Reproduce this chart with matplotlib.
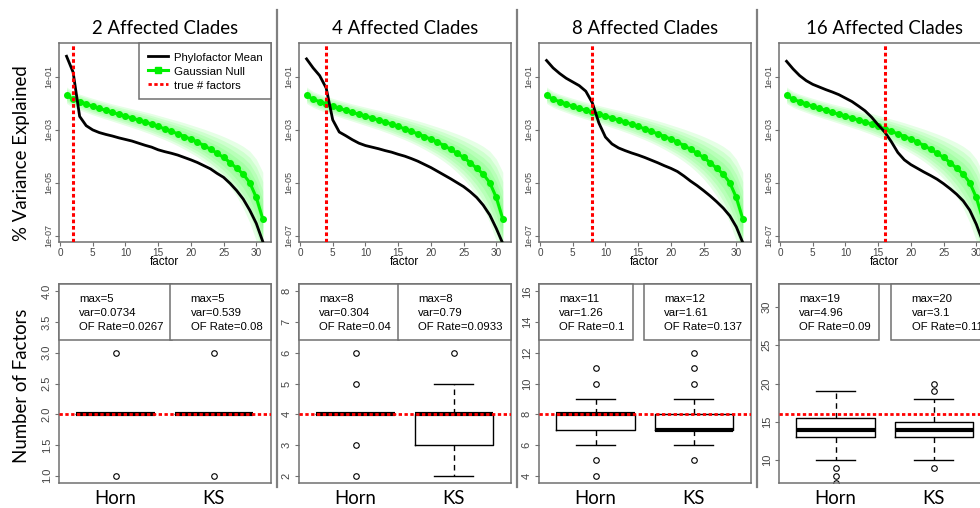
import numpy as np
import matplotlib.pyplot as plt
from matplotlib.lines import Line2D

plt.rcParams['font.family'] = ['Liberation Sans', 'DejaVu Sans']

W, H = 980, 508

clades = [2, 4, 8, 16]
factor = np.arange(1, 32)

# log10(% variance explained)
null_mean = [-1.69, -1.85, -1.93, -2.02, -2.11, -2.19, -2.26, -2.34, -2.41, -2.48,
             -2.55, -2.63, -2.70, -2.78, -2.87, -2.96, -3.05, -3.15, -3.25, -3.35,
             -3.46, -3.59, -3.73, -3.88, -4.04, -4.23, -4.45, -4.67, -4.99, -5.55, -6.37]
null_hi = [-1.38, -1.55, -1.65, -1.73, -1.81, -1.88, -1.95, -2.02, -2.08, -2.14,
           -2.20, -2.26, -2.32, -2.38, -2.45, -2.52, -2.59, -2.66, -2.73, -2.81,
           -2.89, -2.97, -3.06, -3.15, -3.25, -3.36, -3.48, -3.62, -3.80, -4.10, -4.60]
null_lo = [-2.00, -2.15, -2.25, -2.34, -2.43, -2.51, -2.59, -2.67, -2.75, -2.83,
           -2.91, -2.99, -3.08, -3.17, -3.27, -3.37, -3.48, -3.60, -3.73, -3.87,
           -4.02, -4.19, -4.38, -4.60, -4.85, -5.15, -5.50, -5.95, -6.50, -7.20, -8.00]

phylo_2 = [-0.22, -0.82, -2.49, -2.84, -3.00, -3.10, -3.17, -3.23, -3.30, -3.36,
           -3.42, -3.50, -3.58, -3.65, -3.75, -3.82, -3.88, -3.95, -4.04, -4.13,
           -4.23, -4.35, -4.47, -4.64, -4.79, -5.02, -5.29, -5.61, -6.03, -6.53, -7.22]
phylo_4 = [-0.32, -0.66, -0.95, -1.42, -2.62, -3.08, -3.22, -3.37, -3.50, -3.59,
           -3.65, -3.71, -3.78, -3.84, -3.92, -3.99, -4.08, -4.18, -4.30, -4.42,
           -4.56, -4.70, -4.84, -4.99, -5.14, -5.33, -5.55, -5.84, -6.21, -6.72, -7.29]
phylo_8 = [-0.38, -0.66, -0.87, -1.05, -1.19, -1.33, -1.54, -1.98, -2.74, -3.27,
           -3.53, -3.68, -3.78, -3.87, -3.95, -4.04, -4.14, -4.24, -4.35, -4.45,
           -4.57, -4.74, -4.93, -5.10, -5.29, -5.49, -5.71, -5.95, -6.24, -6.66, -7.26]
phylo_16 = [-0.41, -0.70, -0.95, -1.14, -1.28, -1.38, -1.48, -1.57, -1.67, -1.80,
            -1.93, -2.10, -2.28, -2.52, -2.81, -3.08, -3.44, -3.85, -4.13, -4.31,
            -4.45, -4.59, -4.72, -4.86, -5.03, -5.22, -5.43, -5.68, -6.03, -6.56, -7.22]
phylo = [phylo_2, phylo_4, phylo_8, phylo_16]

# number of factors found, boxplot summaries
horn_q1 = [2, 4, 7, 13]
horn_med = [2, 4, 8, 14]
horn_q3 = [2, 4, 8, 15.5]
horn_lo = [2, 4, 6, 10]
horn_hi = [2, 4, 9, 19]
horn_out = [[1, 3], [2, 3, 5, 6], [4, 5, 10, 11], [7, 8, 9]]
ks_q1 = [2, 3, 7, 13]
ks_med = [2, 4, 7, 14]
ks_q3 = [2, 4, 8, 15]
ks_lo = [2, 2, 6, 10]
ks_hi = [2, 5, 9, 18]
ks_out = [[1, 3], [6], [5, 10, 11, 12], [9, 19, 20]]

horn_max = [5, 8, 11, 19]
horn_var = ['0.0734', '0.304', '1.26', '4.96']
horn_of = ['0.0267', '0.04', '0.1', '0.09']
ks_max = [5, 8, 12, 20]
ks_var = ['0.539', '0.79', '1.61', '3.1']
ks_of = ['0.08', '0.0933', '0.137', '0.11']

box_lims = [(1, 4), (2, 8), (4, 16), (8, 32)]
box_ticks = [[1.0, 1.5, 2.0, 2.5, 3.0, 3.5, 4.0], [2, 3, 4, 5, 6, 7, 8],
             [4, 6, 8, 10, 12, 14, 16], [10, 15, 20, 25, 30]]
box_ticklabels = [['1.0', '1.5', '2.0', '2.5', '3.0', '3.5', '4.0'],
                  ['2', '3', '4', '5', '6', '7', '8'],
                  ['4', '6', '8', '10', '12', '14', '16'],
                  ['10', '15', '20', '25', '30']]

GREEN = '#00f000'
RED = '#ff0000'
FRAME = '#707070'
DOTS = (0, (1.2, 0.9))
BIG = ['Lato', 'DejaVu Sans']
BIGSIZE = 13.4

fig = plt.figure(figsize=(W / 100, H / 100), dpi=100)


def style_frame(ax):
    for s in ax.spines.values():
        s.set_color(FRAME)
        s.set_linewidth(1.1)


for i, k in enumerate(clades):
    left = 58.7 + 240 * i

    # ---- top: variance explained per factor
    ax = fig.add_axes([left / W, 1 - 242 / H, 212 / W, 199 / H])
    mean = np.array(null_mean)
    hi = np.array(null_hi)
    lo = np.array(null_lo)
    for f in (1.0, 0.8, 0.6, 0.4, 0.2):
        ax.fill_between(factor, 10 ** (mean + f * (hi - mean)), 10 ** (mean + f * (lo - mean)),
                        color='#00ff00', alpha=0.1, lw=0)
    ax.plot(factor, 10 ** mean, color=GREEN, lw=2.2, marker='o', ms=4.0, zorder=3)
    ax.plot(factor, 10 ** np.array(phylo[i]), color='black', lw=2, zorder=4)
    ax.axvline(k, color=RED, lw=2.2, ls=DOTS, zorder=5)
    ax.set_yscale('log')
    ax.set_xlim(-0.2, 32.2)
    ax.set_ylim(10 ** -7.23, 10 ** 0.28)
    ax.set_xticks([0, 5, 10, 15, 20, 25, 30])
    ax.set_yticks([1e-1, 1e-3, 1e-5, 1e-7])
    ax.set_yticklabels(['1e-01', '1e-03', '1e-05', '1e-07'])
    ax.minorticks_off()
    ax.tick_params(axis='both', direction='out', length=3, width=0.8, color=FRAME,
                   labelcolor='#444444')
    ax.tick_params(axis='x', labelsize=7.2, pad=1)
    ax.tick_params(axis='y', labelsize=6.5, pad=1, labelrotation=90)
    for lab in ax.get_yticklabels():
        lab.set_va('center')
    ax.set_xlabel('factor', fontsize=8.4, labelpad=-1)
    style_frame(ax)
    fig.text((left + 106) / W, 1 - 28 / H, '%d Affected Clades' % k, ha='center', va='center',
             fontsize=BIGSIZE, family=BIG)

    if i == 0:
        handles = [Line2D([], [], color='black', lw=2),
                   Line2D([], [], color=GREEN, lw=2.2, marker='s', ms=4),
                   Line2D([], [], color=RED, lw=2, ls=DOTS)]
        leg = ax.legend(handles, ['Phylofactor Mean', 'Gaussian Null', 'true # factors'],
                        loc='upper right', borderaxespad=0, fancybox=False, edgecolor=FRAME,
                        framealpha=1, fontsize=8.2, handlelength=1.8, handletextpad=0.5,
                        handleheight=1.2, labelspacing=0.2, borderpad=0.72)
        leg.get_frame().set_linewidth(1.1)

    # ---- bottom: number of factors
    bx = fig.add_axes([left / W, 25 / H, 212 / W, 199 / H])
    stats = [dict(med=horn_med[i], q1=horn_q1[i], q3=horn_q3[i], whislo=horn_lo[i],
                  whishi=horn_hi[i], fliers=horn_out[i]),
             dict(med=ks_med[i], q1=ks_q1[i], q3=ks_q3[i], whislo=ks_lo[i],
                  whishi=ks_hi[i], fliers=ks_out[i])]
    bx.bxp(stats, positions=[1, 2], widths=0.8, capwidths=0.4,
           boxprops=dict(color='black', lw=1),
           medianprops=dict(color='black', lw=3, solid_capstyle='butt'),
           whiskerprops=dict(color='black', lw=1, ls=(0, (4, 3))),
           capprops=dict(color='black', lw=1),
           flierprops=dict(marker='o', mfc='none', mec='black', ms=4.0, mew=0.8))
    bx.axhline(k, color=RED, lw=2, ls=DOTS, zorder=5)
    lo_, hi_ = box_lims[i]
    pad = 0.04 * (hi_ - lo_)
    bx.set_ylim(lo_ - pad, hi_ + pad)
    bx.set_xlim(0.42, 2.58)
    bx.set_yticks(box_ticks[i])
    bx.set_yticklabels(box_ticklabels[i])
    bx.set_xticks([1, 2])
    bx.set_xticklabels(['Horn', 'KS'], family=BIG, fontsize=BIGSIZE)
    bx.tick_params(axis='x', length=0, pad=5)
    bx.tick_params(axis='y', direction='out', length=3, width=0.8, color=FRAME,
                   labelcolor='#444444', labelsize=8, pad=2, labelrotation=90)
    for lab in bx.get_yticklabels():
        lab.set_va('center')
    style_frame(bx)

    inv = [Line2D([], [], color='none')] * 3
    opts = dict(borderaxespad=0, fancybox=False, edgecolor=FRAME, framealpha=1, fontsize=8.2,
                handlelength=0.7, handletextpad=0.37, handleheight=1.2, labelspacing=0.2,
                borderpad=0.72)
    l1 = bx.legend(inv, ['max=%d' % horn_max[i], 'var=' + horn_var[i], 'OF Rate=' + horn_of[i]],
                   loc='upper left', **opts)
    l1.get_frame().set_linewidth(1.1)
    bx.add_artist(l1)
    l2 = bx.legend(inv, ['max=%d' % ks_max[i], 'var=' + ks_var[i], 'OF Rate=' + ks_of[i]],
                   loc='upper right', **opts)
    l2.get_frame().set_linewidth(1.1)

# panel separators
for xs in (277, 517, 757):
    fig.add_artist(Line2D([xs / W, xs / W], [1 - 487 / H, 1 - 10 / H], color='#808080', lw=1.6,
                          transform=fig.transFigure))

fig.text(22 / W, 1 - 153 / H, '% Variance Explained', rotation=90, ha='center', va='center',
         fontsize=BIGSIZE, family=BIG)
fig.text(22 / W, 1 - 386 / H, 'Number of Factors', rotation=90, ha='center', va='center',
         fontsize=BIGSIZE, family=BIG)

fig.savefig('out.png', dpi=100)
